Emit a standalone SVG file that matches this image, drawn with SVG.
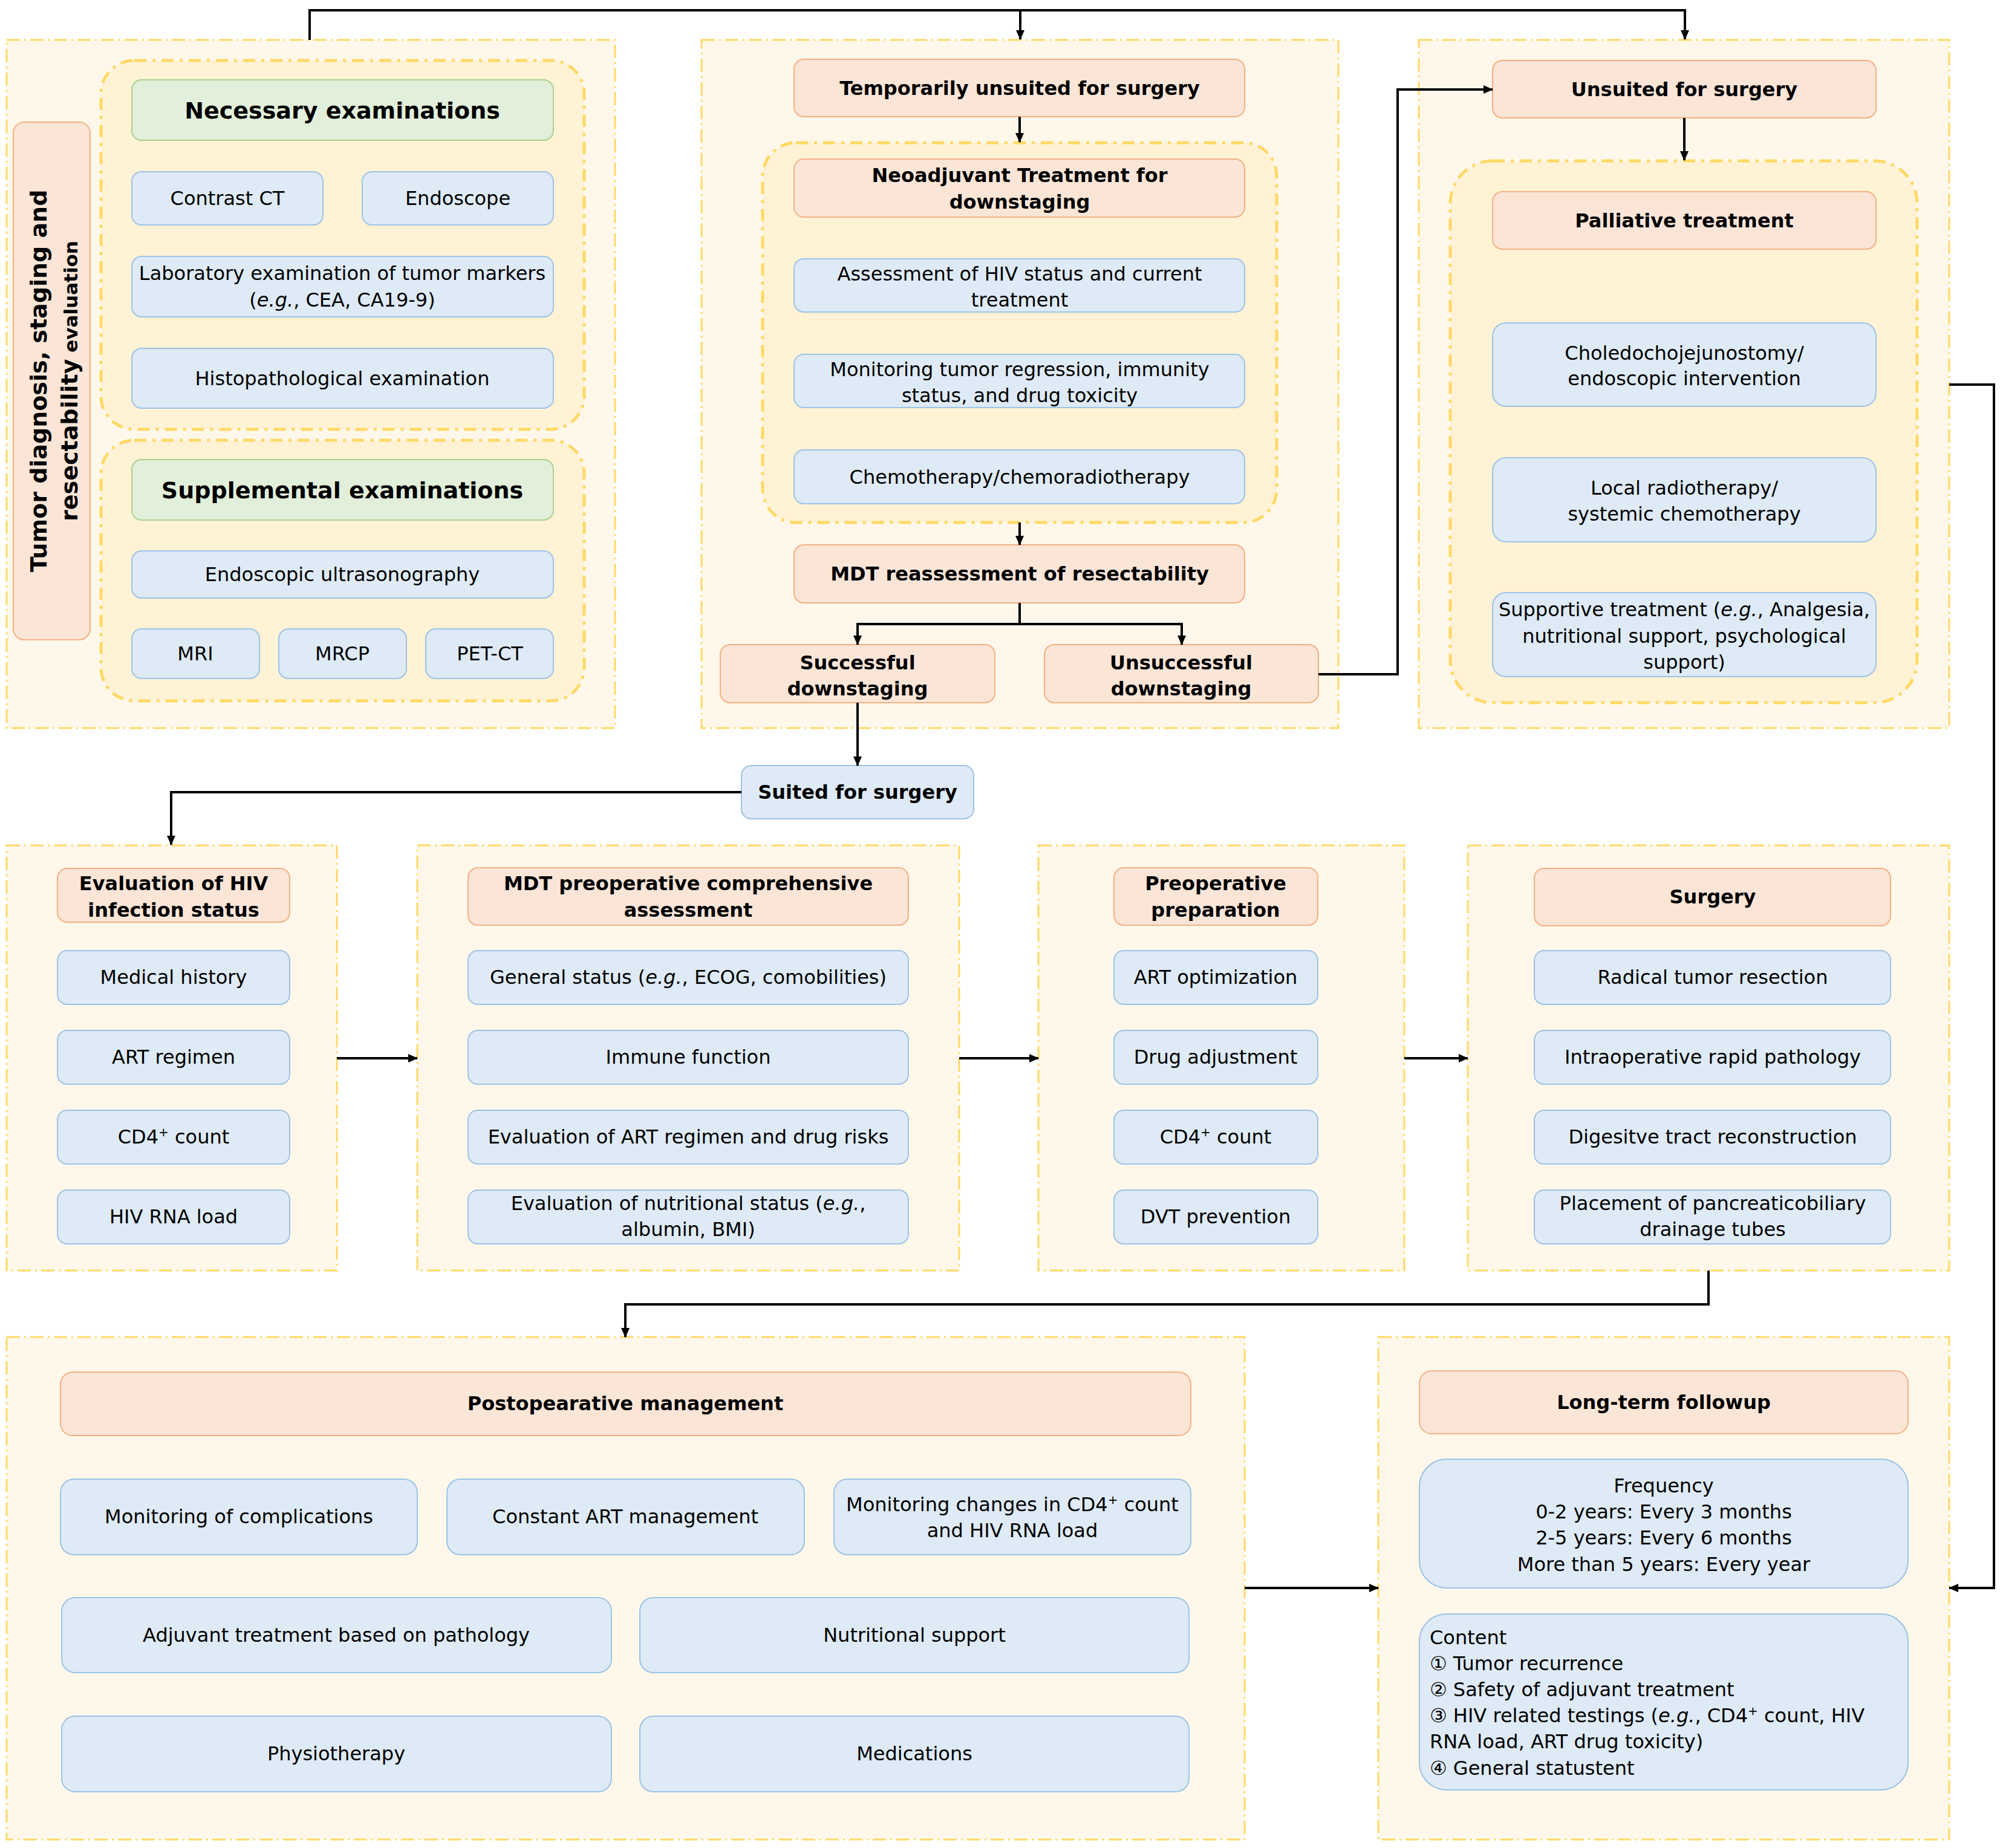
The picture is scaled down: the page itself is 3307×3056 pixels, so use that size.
<svg xmlns="http://www.w3.org/2000/svg" width="3307" height="3056" viewBox="0 0 3307 3056">
<style>
.panel{fill:#FFF8EA;stroke:#FFD966;stroke-width:3;stroke-dasharray:22 7 3 7}
.group{fill:#FFF2D5;stroke:#FFD966;stroke-width:5;stroke-dasharray:20 10 5 10}
.or{fill:#FAE5D7;stroke:#F4B183;stroke-width:2}
.bl{fill:#DEEAF6;stroke:#9DC3E6;stroke-width:2}
.gr{fill:#E2EFDA;stroke:#A9D18E;stroke-width:2}
text{font-family:"DejaVu Sans",Verdana,sans-serif;font-size:32px;fill:#000;text-anchor:middle}
.b{font-weight:bold}
.big{font-size:38px;font-weight:bold}
.l{text-anchor:start}
.conn{fill:none;stroke:#000;stroke-width:4}
</style>
<defs>
<marker id="arr" markerUnits="userSpaceOnUse" markerWidth="16" markerHeight="14" refX="15" refY="7" orient="auto">
<path d="M0 0 L16 7 L0 14 z" fill="#000"/>
</marker>
</defs>

<!-- Panel 1 -->
<g id="panel-diagnosis">
<rect class="panel" x="11" y="66" width="1006" height="1138"/>
<rect class="or" x="22" y="202" width="127" height="856" rx="18"/>
<text class="big" transform="translate(77,630) rotate(-90)">Tumor diagnosis, staging and</text>
<text class="b" transform="translate(128,630) rotate(-90)"><tspan style="font-size:38px">resectability</tspan><tspan style="font-size:31px"> evaluation</tspan></text>
</g>
<g id="group-necessary">
<rect class="group" x="167" y="100" width="799" height="610" rx="55"/>
<rect class="gr" x="218" y="132" width="697" height="100" rx="16"/>
<text class="big" x="566" y="196">Necessary examinations</text>
</g>
<g id="node-contrast-ct"><rect class="bl" x="218" y="284" width="316" height="88" rx="16"/><text x="376" y="339">Contrast CT</text></g>
<g id="node-endoscope"><rect class="bl" x="599" y="284" width="316" height="88" rx="16"/><text x="757" y="339">Endoscope</text></g>
<g id="node-lab"><rect class="bl" x="218" y="424" width="697" height="100" rx="16"/><text x="566" y="463">Laboratory examination of tumor markers</text><text x="566" y="507">(<tspan font-style="italic">e.g.</tspan>, CEA, CA19-9)</text></g>
<g id="node-histo"><rect class="bl" x="218" y="576" width="697" height="99" rx="16"/><text x="566" y="637">Histopathological examination</text></g>
<g id="group-supplemental">
<rect class="group" x="167" y="728" width="799" height="431" rx="55"/>
<rect class="gr" x="218" y="760" width="697" height="100" rx="16"/>
<text class="big" x="566" y="824">Supplemental examinations</text>
</g>
<g id="node-eus"><rect class="bl" x="218" y="911" width="697" height="78" rx="16"/><text x="566" y="961">Endoscopic ultrasonography</text></g>
<g id="node-mri"><rect class="bl" x="218" y="1040" width="211" height="82" rx="16"/><text x="323" y="1092">MRI</text></g>
<g id="node-mrcp"><rect class="bl" x="461" y="1040" width="211" height="82" rx="16"/><text x="566" y="1092">MRCP</text></g>
<g id="node-petct"><rect class="bl" x="704" y="1040" width="211" height="82" rx="16"/><text x="810" y="1092">PET-CT</text></g>

<!-- Panel 2 -->
<g id="panel-temporarily"><rect class="panel" x="1160" y="66" width="1053" height="1138"/></g>
<g id="node-temporarily"><rect class="or" x="1313" y="98" width="745" height="95" rx="16"/><text class="b" x="1686" y="157">Temporarily unsuited for surgery</text></g>
<g id="group-neoadjuvant">
<rect class="group" x="1261" y="236" width="850" height="628" rx="55"/>
<rect class="or" x="1313" y="263" width="745" height="96" rx="16"/>
<text class="b" x="1686" y="301">Neoadjuvant Treatment for</text><text class="b" x="1686" y="345">downstaging</text>
</g>
<g id="node-assess-hiv"><rect class="bl" x="1313" y="428" width="745" height="88" rx="16"/><text x="1686" y="464">Assessment of HIV status and current</text><text x="1686" y="507">treatment</text></g>
<g id="node-monitor-tumor"><rect class="bl" x="1313" y="586" width="745" height="88" rx="16"/><text x="1686" y="622">Monitoring tumor regression, immunity</text><text x="1686" y="665">status, and drug toxicity</text></g>
<g id="node-chemo"><rect class="bl" x="1313" y="744" width="745" height="89" rx="16"/><text x="1686" y="800">Chemotherapy/chemoradiotherapy</text></g>
<g id="node-mdt-reassess"><rect class="or" x="1313" y="901" width="745" height="96" rx="16"/><text class="b" x="1686" y="960">MDT reassessment of resectability</text></g>
<g id="node-successful"><rect class="or" x="1191" y="1066" width="454" height="96" rx="16"/><text class="b" x="1418" y="1107">Successful</text><text class="b" x="1418" y="1150">downstaging</text></g>
<g id="node-unsuccessful"><rect class="or" x="1727" y="1066" width="453" height="96" rx="16"/><text class="b" x="1953" y="1107">Unsuccessful</text><text class="b" x="1953" y="1150">downstaging</text></g>

<!-- Panel 3 -->
<g id="panel-unsuited"><rect class="panel" x="2346" y="66" width="877" height="1138"/></g>
<g id="node-unsuited"><rect class="or" x="2468" y="100" width="634" height="95" rx="16"/><text class="b" x="2785" y="159">Unsuited for surgery</text></g>
<g id="group-palliative">
<rect class="group" x="2398" y="266" width="772" height="896" rx="70"/>
<rect class="or" x="2468" y="317" width="634" height="95" rx="16"/>
<text class="b" x="2785" y="376">Palliative treatment</text>
</g>
<g id="node-choledo"><rect class="bl" x="2468" y="534" width="634" height="138" rx="22"/><text x="2785" y="595">Choledochojejunostomy/</text><text x="2785" y="637">endoscopic intervention</text></g>
<g id="node-local-rt"><rect class="bl" x="2468" y="757" width="634" height="139" rx="22"/><text x="2785" y="818">Local radiotherapy/</text><text x="2785" y="861">systemic chemotherapy</text></g>
<g id="node-supportive"><rect class="bl" x="2468" y="980" width="634" height="139" rx="22"/><text x="2785" y="1019">Supportive treatment (<tspan font-style="italic">e.g.</tspan>, Analgesia,</text><text x="2785" y="1063">nutritional support, psychological</text><text x="2785" y="1106">support)</text></g>

<!-- Suited -->
<g id="node-suited"><rect class="bl" x="1226" y="1266" width="384" height="88" rx="16"/><text class="b" x="1418" y="1321">Suited for surgery</text></g>

<!-- Row 2 -->
<g id="panel-hiv">
<rect class="panel" x="11" y="1398" width="546" height="703"/>
<rect class="or" x="95" y="1436" width="384" height="89" rx="16"/>
<text class="b" x="287" y="1472">Evaluation of HIV</text><text class="b" x="287" y="1516">infection status</text>
</g>
<g id="node-medical-history"><rect class="bl" x="95" y="1572" width="384" height="89" rx="16"/><text x="287" y="1627">Medical history</text></g>
<g id="node-art-regimen"><rect class="bl" x="95" y="1704" width="384" height="89" rx="16"/><text x="287" y="1759">ART regimen</text></g>
<g id="node-cd4-a"><rect class="bl" x="95" y="1836" width="384" height="89" rx="16"/><text x="287" y="1891">CD4<tspan font-size="20" dy="-12">+</tspan><tspan dy="12"> count</tspan></text></g>
<g id="node-hiv-rna"><rect class="bl" x="95" y="1968" width="384" height="89" rx="16"/><text x="287" y="2023">HIV RNA load</text></g>

<g id="panel-mdt-preop">
<rect class="panel" x="690" y="1398" width="896" height="703"/>
<rect class="or" x="774" y="1435" width="728" height="95" rx="16"/>
<text class="b" x="1138" y="1472">MDT preoperative comprehensive</text><text class="b" x="1138" y="1516">assessment</text>
</g>
<g id="node-general-status"><rect class="bl" x="774" y="1572" width="728" height="89" rx="16"/><text x="1138" y="1627">General status (<tspan font-style="italic">e.g.</tspan>, ECOG, comobilities)</text></g>
<g id="node-immune"><rect class="bl" x="774" y="1704" width="728" height="89" rx="16"/><text x="1138" y="1759">Immune function</text></g>
<g id="node-eval-art"><rect class="bl" x="774" y="1836" width="728" height="89" rx="16"/><text x="1138" y="1891">Evaluation of ART regimen and drug risks</text></g>
<g id="node-eval-nutr"><rect class="bl" x="774" y="1968" width="728" height="89" rx="16"/><text x="1138" y="2001">Evaluation of nutritional status (<tspan font-style="italic">e.g.</tspan>,</text><text x="1138" y="2044">albumin, BMI)</text></g>

<g id="panel-preop">
<rect class="panel" x="1717" y="1398" width="605" height="703"/>
<rect class="or" x="1842" y="1435" width="337" height="95" rx="16"/>
<text class="b" x="2010" y="1472">Preoperative</text><text class="b" x="2010" y="1516">preparation</text>
</g>
<g id="node-art-opt"><rect class="bl" x="1842" y="1572" width="337" height="89" rx="16"/><text x="2010" y="1627">ART optimization</text></g>
<g id="node-drug-adj"><rect class="bl" x="1842" y="1704" width="337" height="89" rx="16"/><text x="2010" y="1759">Drug adjustment</text></g>
<g id="node-cd4-c"><rect class="bl" x="1842" y="1836" width="337" height="89" rx="16"/><text x="2010" y="1891">CD4<tspan font-size="20" dy="-12">+</tspan><tspan dy="12"> count</tspan></text></g>
<g id="node-dvt"><rect class="bl" x="1842" y="1968" width="337" height="89" rx="16"/><text x="2010" y="2023">DVT prevention</text></g>

<g id="panel-surgery">
<rect class="panel" x="2427" y="1398" width="796" height="703"/>
<rect class="or" x="2537" y="1436" width="589" height="95" rx="16"/>
<text class="b" x="2832" y="1494">Surgery</text>
</g>
<g id="node-radical"><rect class="bl" x="2537" y="1572" width="589" height="89" rx="16"/><text x="2832" y="1627">Radical tumor resection</text></g>
<g id="node-intraop"><rect class="bl" x="2537" y="1704" width="589" height="89" rx="16"/><text x="2832" y="1759">Intraoperative rapid pathology</text></g>
<g id="node-digestive"><rect class="bl" x="2537" y="1836" width="589" height="89" rx="16"/><text x="2832" y="1891">Digesitve tract reconstruction</text></g>
<g id="node-placement"><rect class="bl" x="2537" y="1968" width="589" height="89" rx="16"/><text x="2832" y="2001">Placement of pancreaticobiliary</text><text x="2832" y="2044">drainage tubes</text></g>

<!-- Row 3 -->
<g id="panel-postop">
<rect class="panel" x="11" y="2211" width="2047" height="831"/>
<rect class="or" x="100" y="2269" width="1869" height="105" rx="20"/>
<text class="b" x="1034" y="2332">Postopearative management</text>
</g>
<g id="node-complications"><rect class="bl" x="100" y="2446" width="590" height="125" rx="22"/><text x="395" y="2519">Monitoring of complications</text></g>
<g id="node-constant-art"><rect class="bl" x="739" y="2446" width="591" height="125" rx="22"/><text x="1034" y="2519">Constant ART management</text></g>
<g id="node-monitor-cd4"><rect class="bl" x="1379" y="2446" width="590" height="125" rx="22"/><text x="1674" y="2499">Monitoring changes in CD4<tspan font-size="20" dy="-12">+</tspan><tspan dy="12"> count</tspan></text><text x="1674" y="2542">and HIV RNA load</text></g>
<g id="node-adjuvant"><rect class="bl" x="102" y="2642" width="909" height="124" rx="22"/><text x="556" y="2715">Adjuvant treatment based on pathology</text></g>
<g id="node-nutritional"><rect class="bl" x="1058" y="2642" width="908" height="124" rx="22"/><text x="1512" y="2715">Nutritional support</text></g>
<g id="node-physio"><rect class="bl" x="102" y="2838" width="909" height="125" rx="22"/><text x="556" y="2911">Physiotherapy</text></g>
<g id="node-medications"><rect class="bl" x="1058" y="2838" width="908" height="125" rx="22"/><text x="1512" y="2911">Medications</text></g>

<g id="panel-followup">
<rect class="panel" x="2279" y="2211" width="944" height="831"/>
<rect class="or" x="2347" y="2267" width="808" height="104" rx="20"/>
<text class="b" x="2751" y="2330">Long-term followup</text>
</g>
<g id="node-frequency"><rect class="bl" x="2347" y="2413" width="808" height="213" rx="45"/>
<text x="2751" y="2468">Frequency</text>
<text x="2751" y="2511">0-2 years: Every 3 months</text>
<text x="2751" y="2554">2-5 years: Every 6 months</text>
<text x="2751" y="2598">More than 5 years: Every year</text>
</g>
<g id="node-content"><rect class="bl" x="2347" y="2669" width="808" height="291" rx="45"/>
<text class="l" x="2364" y="2719">Content</text>
<text class="l" x="2364" y="2762">① Tumor recurrence</text>
<text class="l" x="2364" y="2805">② Safety of adjuvant treatment</text>
<text class="l" x="2364" y="2848">③ HIV related testings (<tspan font-style="italic">e.g.</tspan>, CD4<tspan font-size="20" dy="-12">+</tspan><tspan dy="12"> count, HIV</tspan></text>
<text class="l" x="2364" y="2891">RNA load, ART drug toxicity)</text>
<text class="l" x="2364" y="2935">④ General statustent</text>
</g>

<!-- Connectors -->
<g id="connectors">
<path class="conn" d="M512 66 V17 H2786 V65" marker-end="url(#arr)"/>
<path class="conn" d="M1687 17 V65" marker-end="url(#arr)"/>
<path class="conn" d="M1686 193 V235" marker-end="url(#arr)"/>
<path class="conn" d="M1686 864 V901" marker-end="url(#arr)"/>
<path class="conn" d="M1686 997 V1032 H1418 V1066" marker-end="url(#arr)"/>
<path class="conn" d="M1686 1032 H1954 V1066" marker-end="url(#arr)"/>
<path class="conn" d="M2180 1115 H2311 V148 H2468" marker-end="url(#arr)"/>
<path class="conn" d="M2785 195 V265" marker-end="url(#arr)"/>
<path class="conn" d="M1418 1162 V1266" marker-end="url(#arr)"/>
<path class="conn" d="M1226 1310 H283 V1397" marker-end="url(#arr)"/>
<path class="conn" d="M557 1750 H690" marker-end="url(#arr)"/>
<path class="conn" d="M1586 1750 H1717" marker-end="url(#arr)"/>
<path class="conn" d="M2322 1750 H2427" marker-end="url(#arr)"/>
<path class="conn" d="M2825 2101 V2157 H1034 V2211" marker-end="url(#arr)"/>
<path class="conn" d="M2058 2626 H2279" marker-end="url(#arr)"/>
<path class="conn" d="M3223 636 H3297 V2626 H3223" marker-end="url(#arr)"/>
</g>
</svg>
